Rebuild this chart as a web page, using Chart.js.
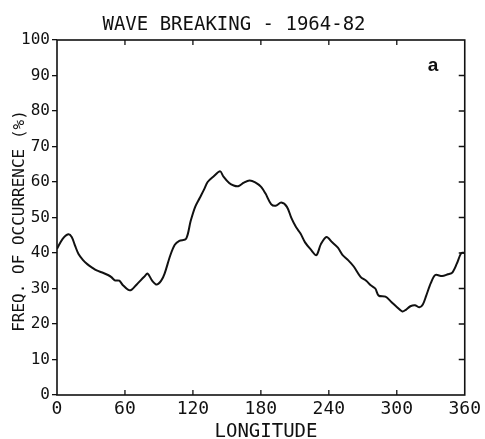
<!DOCTYPE html>
<html>
<head>
<meta charset="utf-8">
<script src="https://cdn.jsdelivr.net/npm/chart.js@4.4.1/dist/chart.umd.min.js"></script>
<style>
  html, body { margin: 0; padding: 0; background: #fff; }
  #wrap { width: 485px; height: 439px; position: relative; }
</style>
</head>
<body>
<div id="wrap"><canvas id="waveChart" width="485" height="439"></canvas></div>
<script>
// longitude (deg E) and frequency of wave breaking (%)
const longitudes = [0, 5, 10, 13, 16, 19, 23, 27, 31, 35, 40, 45, 48, 51, 55, 58, 63, 66, 70, 73,
  77, 80, 84, 88, 92, 95, 100, 104, 108, 114, 118, 122, 126, 130, 133, 138, 144, 147, 152, 156,
  160, 165, 170, 175, 180, 184, 189, 193, 198, 203, 207, 211, 215, 219, 224, 229, 233, 238, 243, 248,
  252, 257, 262, 268, 273, 277, 281, 284, 290, 295, 300, 305, 308, 312, 316, 320, 323, 326, 330, 334,
  340, 345, 349, 353, 357, 360];
const freqs = [41.2, 44.0, 45.3, 44.5, 42.0, 39.7, 38.0, 36.8, 35.9, 35.1, 34.5, 33.8, 33.2, 32.3, 32.2, 31.0, 29.6, 29.7, 31.0, 32.0,
  33.3, 34.2, 32.2, 31.1, 32.2, 34.2, 39.3, 42.3, 43.4, 44.0, 49.0, 53.0, 55.5, 58.0, 60.0, 61.5, 63.0, 61.5, 59.7, 59.0,
  58.8, 59.8, 60.4, 59.9, 58.7, 56.8, 53.8, 53.3, 54.2, 53.0, 49.8, 47.3, 45.5, 43.0, 41.0, 39.4, 42.5, 44.5, 43.0, 41.5,
  39.5, 38.0, 36.2, 33.3, 32.2, 30.9, 30.0, 28.0, 27.7, 26.3, 24.8, 23.5, 24.0, 25.0, 25.3, 24.7, 25.5, 28.0, 31.5, 33.8,
  33.5, 34.0, 34.5, 37.0, 40.0, 40.0];
const xTicks = [0, 60, 120, 180, 240, 300, 360];
const yTicks = [0, 10, 20, 30, 40, 50, 60, 70, 80, 90, 100];

const monoFont = '"DejaVu Sans Mono", monospace';

// frame, inward ticks and the loose texts
const framePlugin = {
  id: 'frame',
  afterDraw(chart) {
    const ctx = chart.ctx;
    const a = chart.chartArea;
    const xs = chart.scales.x, ys = chart.scales.y;
    ctx.save();
    ctx.strokeStyle = '#111';
    ctx.lineWidth = 1.6;
    ctx.strokeRect(a.left, a.top, a.right - a.left, a.bottom - a.top);
    ctx.lineWidth = 1.3;
    ctx.beginPath();
    xTicks.slice(1, -1).forEach(function(v) {
      const px = xs.getPixelForValue(v);
      ctx.moveTo(px, a.top); ctx.lineTo(px, a.top + 5);
      ctx.moveTo(px, a.bottom); ctx.lineTo(px, a.bottom - 5);
    });
    yTicks.slice(1, -1).forEach(function(v) {
      const py = ys.getPixelForValue(v);
      ctx.moveTo(a.right, py); ctx.lineTo(a.right - 6, py);
    });
    ctx.stroke();

    ctx.fillStyle = '#111';
    ctx.textAlign = 'center';
    ctx.textBaseline = 'middle';
    ctx.font = '19px ' + monoFont;
    ctx.fillText('WAVE BREAKING - 1964-82', 234, 25);
    ctx.fillText('LONGITUDE', 266, 432);

    ctx.font = 'bold 19px "Liberation Sans", Arial, sans-serif';
    ctx.fillText('a', 433, 66);

    ctx.translate(20, 221);
    ctx.rotate(-Math.PI / 2);
    ctx.font = '16px ' + monoFont;
    ctx.fillText('FREQ. OF OCCURRENCE (%)', 0, 0);
    ctx.restore();
  }
};

const ctx = document.getElementById('waveChart').getContext('2d');
const chart = new Chart(ctx, {
  type: 'line',
  data: {
    datasets: [{
      data: longitudes.map(function(lon, i) { return { x: lon, y: freqs[i] }; }),
      borderColor: '#111',
      borderWidth: 2,
      pointRadius: 0,
      tension: 0.3,
      fill: false
    }]
  },
  options: {
    responsive: false,
    animation: false,
    layout: { padding: { top: 40, right: 19, left: 0, bottom: 0 } },
    plugins: {
      legend: { display: false },
      tooltip: { enabled: false },
      title: { display: false }
    },
    scales: {
      x: {
        type: 'linear',
        min: 0,
        max: 360,
        afterFit: function(scale) { scale.height = 44; },
        afterBuildTicks: function(scale) {
          scale.ticks = xTicks.map(function(v) { return { value: v }; });
        },
        grid: { display: false, drawTicks: false },
        border: { display: false },
        ticks: {
          color: '#111',
          padding: 4,
          maxRotation: 0,
          autoSkip: false,
          font: { family: monoFont, size: 18 }
        }
      },
      y: {
        min: 0,
        max: 100,
        afterFit: function(scale) { scale.width = 57; },
        afterBuildTicks: function(scale) {
          scale.ticks = yTicks.map(function(v) { return { value: v }; });
        },
        grid: { drawOnChartArea: false, drawTicks: true, tickLength: 5, color: '#111', lineWidth: 1.3 },
        border: { display: false },
        ticks: {
          color: '#111',
          padding: 2,
          autoSkip: false,
          font: { family: monoFont, size: 16 }
        }
      }
    }
  },
  plugins: [framePlugin]
});
</script>
</body>
</html>
